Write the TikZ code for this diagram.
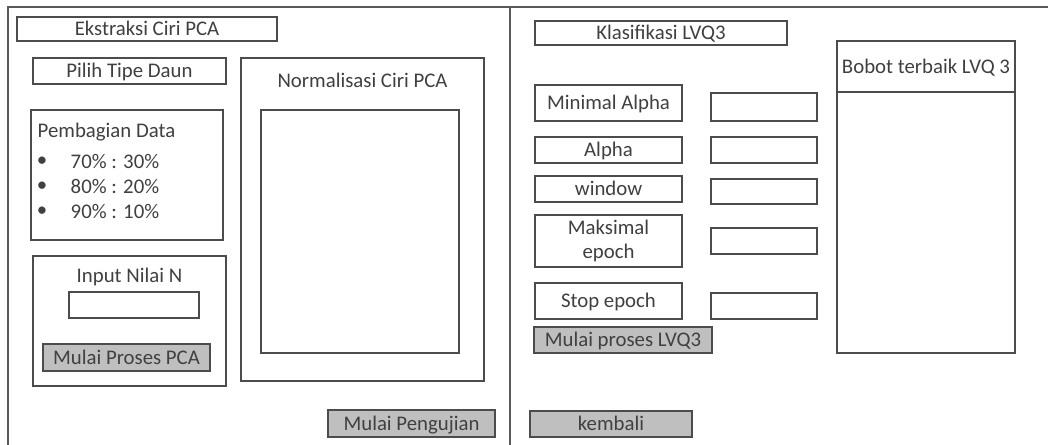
\documentclass[tikz,border=0pt]{standalone}
\usepackage{fontspec}
\setmainfont{Carlito}
\usetikzlibrary{positioning}

\begin{document}
\begin{tikzpicture}
[x=0.75pt,y=-0.75pt,
every node/.style={font=\fontsize{15.6}{17}\selectfont,text=black!75},
kotak/.style n args={4}{minimum width={(#3-#1)*0.75pt},minimum height={(#4-#2)*0.75pt},
  at={({(#1+#3)/2},{(#2+#4)/2})}},
panel/.style={draw=black!70,line width=0.8pt,inner sep=0pt,fill=white,
  text height=10pt,text depth=0pt},
entry/.style={panel},
btn/.style={panel,fill=black!25},
garis/.style={draw=black!65,line width=1pt}]
\useasboundingbox (0,0) rectangle (1048,445);
% bingkai luar
\coordinate (kiribawah) at (8,445);
\coordinate (kiriatas) at (8,7);
\coordinate (kananatas) at (1048,7);
\coordinate (tengahatas) at (510,7);
\coordinate (tengahbawah) at (510,445);
\draw [garis] (kiribawah) -- (kiriatas) -- (kananatas);
\draw [garis] (tengahatas) -- (tengahbawah);
% bagian PCA
\node [panel,kotak={17}{17}{277}{41}] (judulpca) {Ekstraksi Ciri PCA};
\node [panel,kotak={33}{58}{226}{84}] (tipedaun) {Pilih Tipe Daun};
\node [panel,kotak={31}{110}{223}{240}] (pembagian) {};
\node [anchor=west] (jdlbagi) at (33,132) {Pembagian Data};
\node (b1) at (42,162) {\textbullet};
\node [anchor=west] (d1) at (66,161) {70\% : 30\%};
\node (b2) at (42,187) {\textbullet};
\node [anchor=west] (d2) at (66,186) {80\% : 20\%};
\node (b3) at (42,212) {\textbullet};
\node [anchor=west] (d3) at (66,211) {90\% : 10\%};
\node [panel,kotak={33}{256}{226}{386}] (inputn) {};
\node (jdlinput) at (129.5,277) {Input Nilai N};
\node [entry,kotak={69}{292}{199}{318}] (nilain) {};
\node [btn,kotak={43}{344}{210}{371}] (prosespca) {Mulai Proses PCA};
\node [panel,kotak={241}{58}{484}{381}] (normal) {};
\node (jdlnormal) at (362.5,80) {Normalisasi Ciri PCA};
\node [panel,kotak={261}{110}{459}{353}] (hasilnormal) {};
\node [btn,kotak={328}{410}{495}{437}] (uji) {Mulai Pengujian};
% bagian LVQ3
\node [panel,kotak={535}{21}{787}{45}] (judullvq) {Klasifikasi LVQ3};
\node [panel,kotak={837}{41}{1015}{353}] (bobot) {};
\node [panel,kotak={837}{41}{1015}{92}] (jdlbobot) {Bobot terbaik LVQ 3};
\node [panel,kotak={535}{85}{682}{121}] (minalpha) {Minimal Alpha};
\node [entry,kotak={711}{93}{817}{121}] (isiminalpha) {};
\node [panel,kotak={535}{137}{682}{163}] (alpha) {Alpha};
\node [entry,kotak={711}{137}{817}{163}] (isialpha) {};
\node [panel,kotak={535}{176}{682}{202}] (window) {window};
\node [entry,kotak={711}{179}{817}{204}] (isiwindow) {};
\node [panel,kotak={535}{215}{682}{267},align=center,text height=,text depth=]
  (maxepoch) {Maksimal\\[1pt]epoch};
\node [entry,kotak={711}{228}{817}{254}] (isimaxepoch) {};
\node [panel,kotak={535}{283}{682}{319}] (stopepoch) {Stop epoch};
\node [entry,kotak={711}{293}{817}{319}] (isistopepoch) {};
\node [btn,kotak={534}{327}{712}{353}] (proseslvq) {Mulai proses LVQ3};
\node [btn,kotak={530}{411}{692}{437}] (kembali) {kembali};
\end{tikzpicture}
\end{document}
